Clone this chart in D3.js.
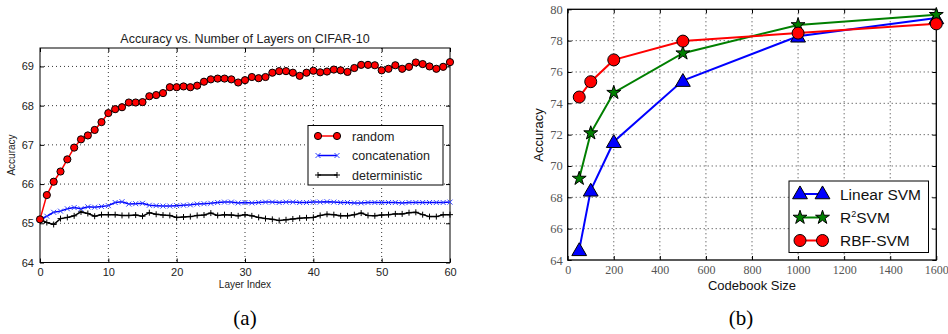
<!DOCTYPE html>
<html>
<head>
<meta charset="utf-8">
<script src="https://cdn.jsdelivr.net/npm/d3@7"></script>
<style>
  body { margin: 0; background: #fff; }
  svg { display: block; }
</style>
</head>
<body>
<div id="chart"></div>
<script>
// left panel: accuracy vs layer index
var layerIdx = d3.range(0, 61);
var randomAcc = [65.10, 65.72, 66.06, 66.32, 66.63, 66.93, 67.14, 67.24, 67.38, 67.58,
  67.81, 67.91, 67.96, 68.08, 68.08, 68.09, 68.24, 68.27, 68.32, 68.47,
  68.47, 68.49, 68.47, 68.51, 68.61, 68.67, 68.69, 68.69, 68.67, 68.59,
  68.65, 68.73, 68.70, 68.73, 68.84, 68.88, 68.88, 68.84, 68.76, 68.84,
  68.89, 68.85, 68.87, 68.92, 68.90, 68.86, 68.96, 69.04, 69.04, 69.03,
  68.90, 68.94, 69.03, 68.94, 68.99, 69.10, 69.06, 69.00, 68.94, 68.99, 69.11];
var concatAcc = [65.10, 65.18, 65.28, 65.31, 65.37, 65.40, 65.37, 65.42, 65.41, 65.43,
  65.45, 65.53, 65.55, 65.49, 65.50, 65.51, 65.46, 65.45, 65.44, 65.44,
  65.45, 65.46, 65.47, 65.49, 65.50, 65.51, 65.53, 65.54, 65.54, 65.52,
  65.53, 65.52, 65.53, 65.54, 65.54, 65.53, 65.54, 65.54, 65.53, 65.53,
  65.54, 65.54, 65.55, 65.54, 65.53, 65.53, 65.52, 65.52, 65.53, 65.53,
  65.53, 65.53, 65.53, 65.52, 65.53, 65.53, 65.53, 65.53, 65.53, 65.53, 65.54];
var detAcc = [65.10, 65.02, 64.97, 65.12, 65.15, 65.19, 65.29, 65.25, 65.18, 65.22,
  65.22, 65.22, 65.20, 65.20, 65.21, 65.18, 65.27, 65.23, 65.21, 65.20,
  65.15, 65.16, 65.17, 65.20, 65.21, 65.26, 65.20, 65.22, 65.21, 65.19,
  65.22, 65.19, 65.15, 65.12, 65.10, 65.07, 65.09, 65.11, 65.13, 65.14,
  65.15, 65.20, 65.23, 65.22, 65.19, 65.19, 65.22, 65.26, 65.20, 65.19,
  65.21, 65.22, 65.24, 65.24, 65.27, 65.28, 65.22, 65.17, 65.17, 65.22, 65.22];
var leftXTicks = [0, 10, 20, 30, 40, 50, 60];
var leftYTicks = [64, 65, 66, 67, 68, 69];

// right panel: accuracy vs codebook size
var codebook = [50, 100, 200, 500, 1000, 1600];
var linearSvm = [64.65, 68.45, 71.55, 75.45, 78.28, 79.45];
var r2Svm = [69.2, 72.1, 74.68, 77.2, 79.0, 79.65];
var rbfSvm = [74.4, 75.38, 76.77, 77.97, 78.48, 79.07];
var rightXTicks = [0, 200, 400, 600, 800, 1000, 1200, 1400, 1600];
var rightYTicks = [64, 66, 68, 70, 72, 74, 76, 78, 80];

var svg = d3.select("#chart").append("svg")
  .attr("width", 948).attr("height", 334);

var sans = "Liberation Sans, Arial, Helvetica, sans-serif";
var serif = "Liberation Serif, Times New Roman, serif";

// ---------- left chart ----------
var L = { left: 40, right: 450, top: 48, bottom: 262.5 };
var xL = d3.scaleLinear().domain([0, 60]).range([L.left, L.right]);
var yL = d3.scaleLinear().domain([64, 69.47]).range([L.bottom, L.top]);

var gL = svg.append("g");

// dotted grid
gL.selectAll(".gx").data(leftXTicks.slice(1, -1)).enter().append("line")
  .attr("x1", d => xL(d)).attr("x2", d => xL(d))
  .attr("y1", L.top).attr("y2", L.bottom)
  .attr("stroke", "#000").attr("stroke-width", 0.8).attr("stroke-dasharray", "1,3");
gL.selectAll(".gy").data(leftYTicks.slice(1)).enter().append("line")
  .attr("x1", L.left).attr("x2", L.right)
  .attr("y1", d => yL(d)).attr("y2", d => yL(d))
  .attr("stroke", "#000").attr("stroke-width", 0.8).attr("stroke-dasharray", "1,3");

// axes with inward ticks
gL.append("g").attr("transform", `translate(0,${L.bottom})`)
  .call(d3.axisBottom(xL).tickValues(leftXTicks).tickSize(-4).tickPadding(6).tickFormat(d3.format("d")))
  .call(g => g.select(".domain").remove())
  .selectAll("text").attr("font-family", sans).attr("font-size", 11).attr("fill", "#222");
gL.append("g").attr("transform", `translate(0,${L.top})`)
  .call(d3.axisTop(xL).tickValues(leftXTicks).tickSize(-4).tickFormat(""))
  .call(g => g.select(".domain").remove());
gL.append("g").attr("transform", `translate(${L.left},0)`)
  .call(d3.axisLeft(yL).tickValues(leftYTicks).tickSize(-4).tickPadding(6).tickFormat(d3.format("d")))
  .call(g => g.select(".domain").remove())
  .selectAll("text").attr("font-family", sans).attr("font-size", 11).attr("fill", "#222");
gL.append("g").attr("transform", `translate(${L.right},0)`)
  .call(d3.axisRight(yL).tickValues(leftYTicks).tickSize(-4).tickFormat(""))
  .call(g => g.select(".domain").remove());

gL.append("rect")
  .attr("x", L.left).attr("y", L.top)
  .attr("width", L.right - L.left).attr("height", L.bottom - L.top)
  .attr("fill", "none").attr("stroke", "#000").attr("stroke-width", 1);

var lineL = d3.line().x((d, i) => xL(layerIdx[i])).y(d => yL(d));

function plusPath(s) { return `M${-s},0H${s}M0,${-s}V${s}`; }
function crossPath(s) { return `M${-s},${-s}L${s},${s}M${-s},${s}L${s},${-s}`; }

// deterministic
gL.append("path").datum(detAcc).attr("d", lineL)
  .attr("fill", "none").attr("stroke", "#000").attr("stroke-width", 1.5);
gL.selectAll(".mdet").data(detAcc).enter().append("path")
  .attr("transform", (d, i) => `translate(${xL(layerIdx[i])},${yL(d)})`)
  .attr("d", plusPath(3)).attr("stroke", "#000").attr("stroke-width", 1);

// concatenation
gL.append("path").datum(concatAcc).attr("d", lineL)
  .attr("fill", "none").attr("stroke", "#0000ff").attr("stroke-width", 1.5);
gL.selectAll(".mcat").data(concatAcc).enter().append("path")
  .attr("transform", (d, i) => `translate(${xL(layerIdx[i])},${yL(d)})`)
  .attr("d", crossPath(2.5)).attr("stroke", "#3344ff").attr("stroke-width", 1);

// random
gL.append("path").datum(randomAcc).attr("d", lineL)
  .attr("fill", "none").attr("stroke", "#ff0000").attr("stroke-width", 1.5);
gL.selectAll(".mrnd").data(randomAcc).enter().append("circle")
  .attr("cx", (d, i) => xL(layerIdx[i])).attr("cy", d => yL(d))
  .attr("r", 3.6).attr("fill", "#ff0000").attr("stroke", "#000").attr("stroke-width", 1);

// labels
gL.append("text").attr("x", 245).attr("y", 43).attr("text-anchor", "middle")
  .attr("font-family", sans).attr("font-size", 12.5).attr("fill", "#222")
  .text("Accuracy vs. Number of Layers on CIFAR-10");
gL.append("text").attr("x", 245).attr("y", 288).attr("text-anchor", "middle")
  .attr("font-family", sans).attr("font-size", 10).attr("fill", "#222")
  .text("Layer Index");
gL.append("text").attr("transform", "translate(15,155) rotate(-90)").attr("text-anchor", "middle")
  .attr("font-family", sans).attr("font-size", 10).attr("fill", "#222")
  .text("Accuracy");
gL.append("text").attr("x", 245).attr("y", 325).attr("text-anchor", "middle")
  .attr("font-family", serif).attr("font-size", 21).attr("fill", "#000")
  .text("(a)");

// left legend
var legL = gL.append("g");
legL.append("rect").attr("x", 308).attr("y", 125.5).attr("width", 135).attr("height", 59.5)
  .attr("fill", "#fff").attr("stroke", "#000").attr("stroke-width", 1);
var legLItems = [
  { name: "random", color: "#ff0000", y: 136, mark: "circle" },
  { name: "concatenation", color: "#0000ff", y: 155.5, mark: "cross" },
  { name: "deterministic", color: "#000", y: 175, mark: "plus" }
];
legLItems.forEach(function(it) {
  legL.append("line").attr("x1", 318).attr("x2", 337).attr("y1", it.y).attr("y2", it.y)
    .attr("stroke", it.color).attr("stroke-width", 1.5);
  [318, 337].forEach(function(mx) {
    if (it.mark === "circle") {
      legL.append("circle").attr("cx", mx).attr("cy", it.y).attr("r", 3.6)
        .attr("fill", "#ff0000").attr("stroke", "#000");
    } else {
      legL.append("path").attr("transform", `translate(${mx},${it.y})`)
        .attr("d", it.mark === "cross" ? crossPath(2.5) : plusPath(3))
        .attr("stroke", it.mark === "cross" ? "#3344ff" : "#000");
    }
  });
  legL.append("text").attr("x", 352).attr("y", it.y + 4.5)
    .attr("font-family", sans).attr("font-size", 12.5).attr("fill", "#222")
    .text(it.name);
});

// ---------- right chart ----------
var R = { left: 567.7, right: 936.3, top: 9.3, bottom: 260 };
var xR = d3.scaleLinear().domain([0, 1600]).range([R.left, R.right]);
var yR = d3.scaleLinear().domain([64, 80]).range([R.bottom, R.top]);

var gR = svg.append("g");

gR.selectAll(".gx").data(rightXTicks.slice(1, -1)).enter().append("line")
  .attr("x1", d => xR(d)).attr("x2", d => xR(d))
  .attr("y1", R.top).attr("y2", R.bottom)
  .attr("stroke", "#000").attr("stroke-width", 0.8).attr("stroke-dasharray", "1,3");
gR.selectAll(".gy").data(rightYTicks.slice(1, -1)).enter().append("line")
  .attr("x1", R.left).attr("x2", R.right)
  .attr("y1", d => yR(d)).attr("y2", d => yR(d))
  .attr("stroke", "#000").attr("stroke-width", 0.8).attr("stroke-dasharray", "1,3");

gR.append("g").attr("transform", `translate(0,${R.bottom})`)
  .call(d3.axisBottom(xR).tickValues(rightXTicks).tickSize(-4).tickPadding(5).tickFormat(d3.format("d")))
  .call(g => g.select(".domain").remove())
  .selectAll("text").attr("font-family", serif).attr("font-size", 12).attr("fill", "#555");
gR.append("g").attr("transform", `translate(0,${R.top})`)
  .call(d3.axisTop(xR).tickValues(rightXTicks).tickSize(-4).tickFormat(""))
  .call(g => g.select(".domain").remove());
gR.append("g").attr("transform", `translate(${R.left},0)`)
  .call(d3.axisLeft(yR).tickValues(rightYTicks).tickSize(-4).tickPadding(5).tickFormat(d3.format("d")))
  .call(g => g.select(".domain").remove())
  .selectAll("text").attr("font-family", serif).attr("font-size", 12.5).attr("fill", "#555");
gR.append("g").attr("transform", `translate(${R.right},0)`)
  .call(d3.axisRight(yR).tickValues(rightYTicks).tickSize(-4).tickFormat(""))
  .call(g => g.select(".domain").remove());

gR.append("rect")
  .attr("x", R.left).attr("y", R.top)
  .attr("width", R.right - R.left).attr("height", R.bottom - R.top)
  .attr("fill", "none").attr("stroke", "#000").attr("stroke-width", 1.3);

var lineR = d3.line().x((d, i) => xR(codebook[i])).y(d => yR(d));
var triSym = d3.symbol().type(d3.symbolTriangle).size(95);
var starSym = d3.symbol().type(d3.symbolStar).size(60);

var seriesR = [
  { name: "Linear SVM", values: linearSvm, color: "#0000ff", mark: "tri" },
  { name: "R2SVM", values: r2Svm, color: "#007f00", mark: "star" },
  { name: "RBF-SVM", values: rbfSvm, color: "#ff0000", mark: "circle" }
];

function drawMark(g, s, x, y) {
  if (s.mark === "circle") {
    g.append("circle").attr("cx", x).attr("cy", y).attr("r", 6)
      .attr("fill", s.color).attr("stroke", "#000").attr("stroke-width", 1);
  } else {
    g.append("path").attr("transform", `translate(${x},${y + (s.mark === "tri" ? 1.5 : 0)})`)
      .attr("d", s.mark === "tri" ? triSym() : starSym())
      .attr("fill", s.color).attr("stroke", "#000").attr("stroke-width", 1);
  }
}

seriesR.forEach(function(s) {
  gR.append("path").datum(s.values).attr("d", lineR)
    .attr("fill", "none").attr("stroke", s.color).attr("stroke-width", 2);
});
seriesR.forEach(function(s) {
  s.values.forEach(function(v, i) { drawMark(gR, s, xR(codebook[i]), yR(v)); });
});

gR.append("text").attr("x", 752).attr("y", 290).attr("text-anchor", "middle")
  .attr("font-family", sans).attr("font-size", 13).attr("fill", "#111")
  .text("Codebook Size");
gR.append("text").attr("transform", "translate(543,135) rotate(-90)").attr("text-anchor", "middle")
  .attr("font-family", sans).attr("font-size", 13).attr("fill", "#111")
  .text("Accuracy");
gR.append("text").attr("x", 741).attr("y", 325).attr("text-anchor", "middle")
  .attr("font-family", serif).attr("font-size", 21).attr("fill", "#000")
  .text("(b)");

// right legend
var legR = gR.append("g");
legR.append("rect").attr("x", 789).attr("y", 181).attr("width", 139.5).attr("height", 71.5)
  .attr("fill", "#fff").attr("stroke", "#000").attr("stroke-width", 1);
var legRY = [194, 217.5, 240.5];
seriesR.forEach(function(s, i) {
  var y = legRY[i];
  legR.append("line").attr("x1", 800).attr("x2", 822.5).attr("y1", y).attr("y2", y)
    .attr("stroke", s.color).attr("stroke-width", 2);
  drawMark(legR, s, 800, y - (s.mark === "tri" ? 1 : 0));
  drawMark(legR, s, 822.5, y - (s.mark === "tri" ? 1 : 0));
  var t = legR.append("text").attr("x", 840).attr("y", y + 5.5)
    .attr("font-family", sans).attr("font-size", 15.5).attr("fill", "#111");
  if (s.name === "R2SVM") {
    t.append("tspan").text("R");
    t.append("tspan").attr("font-size", 9).attr("dy", -6).text("2");
    t.append("tspan").attr("dy", 6).text("SVM");
  } else {
    t.text(s.name);
  }
});
</script>
</body>
</html>
